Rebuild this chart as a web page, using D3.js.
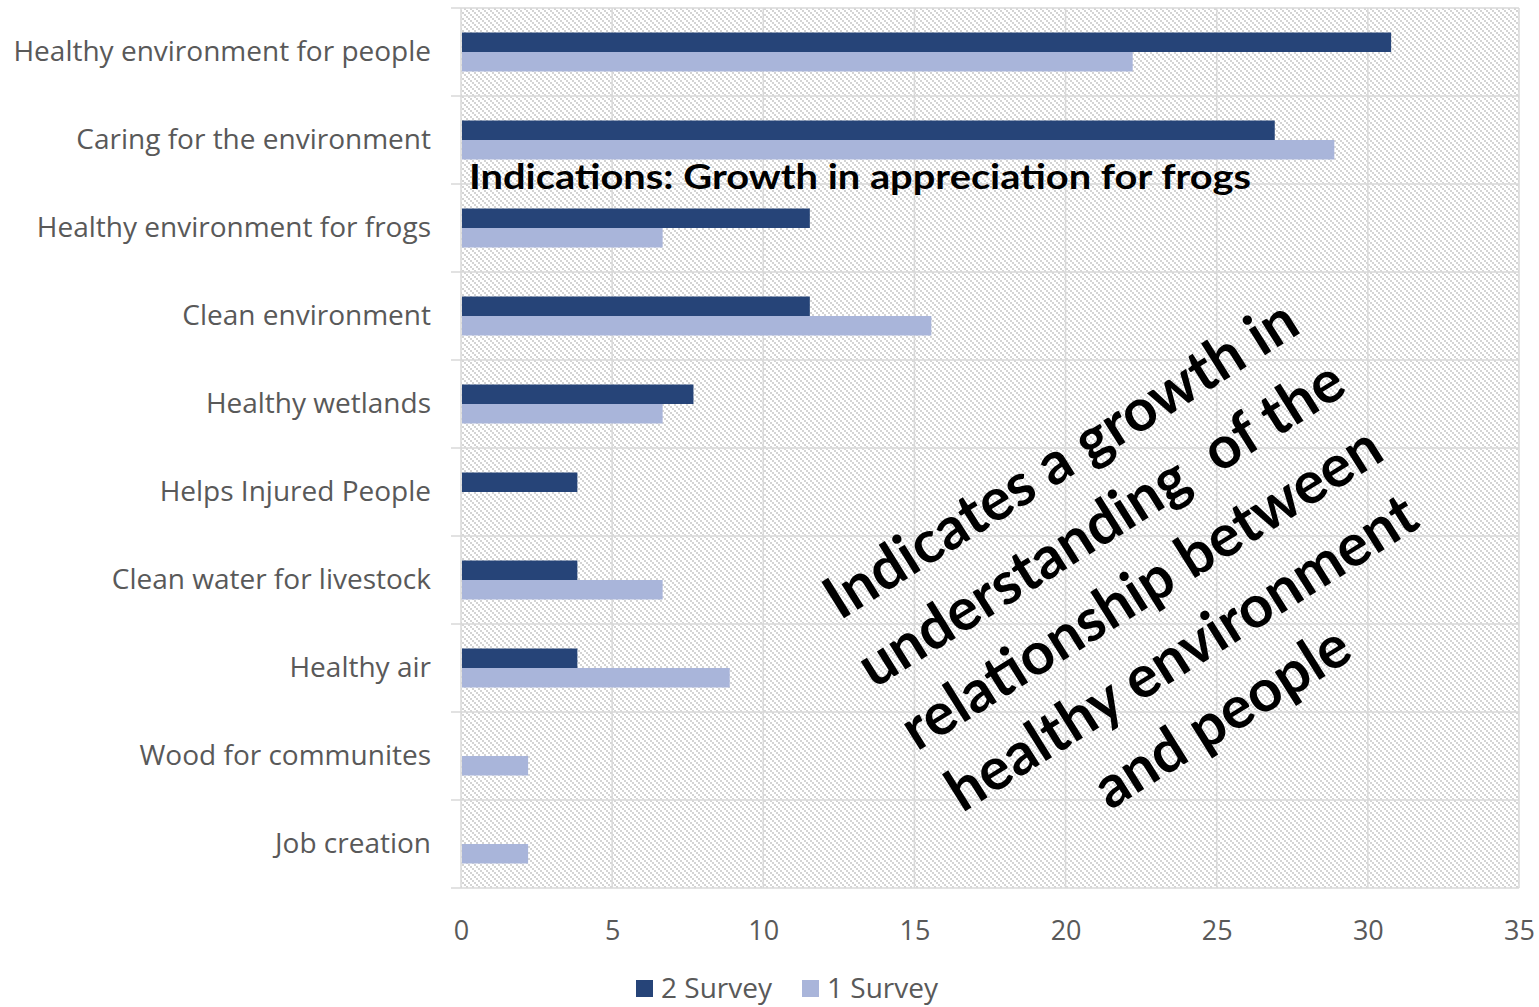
<!DOCTYPE html>
<html>
<head>
<meta charset="utf-8">
<script src="https://cdn.jsdelivr.net/npm/d3@7"></script>
<style>
  html, body { margin: 0; padding: 0; background: #ffffff; }
  svg { display: block; }
</style>
</head>
<body>
<svg id="chart" width="1539" height="1007"></svg>
<script>
// Survey responses (% of respondents) per perceived benefit
const categories = [
  "Healthy environment for people",
  "Caring for the environment",
  "Healthy environment for frogs",
  "Clean environment",
  "Healthy wetlands",
  "Helps Injured People",
  "Clean water for livestock",
  "Healthy air",
  "Wood for communites",
  "Job creation"
];
const seriesNames = ["2 Survey", "1 Survey"];
const survey2 = [30.77, 26.92, 11.54, 11.54, 7.69, 3.85, 3.85, 3.85, 0, 0];
const survey1 = [22.22, 28.89, 6.67, 15.56, 6.67, 0, 6.67, 8.89, 2.22, 2.22];
const xTicks = [0, 5, 10, 15, 20, 25, 30, 35];
const headline = "Indications: Growth in appreciation for frogs";
const noteLines = [
  "Indicates a growth in",
  "understanding  of the",
  "relationship between",
  "healthy environment",
  "and people"
];

const colors = { "2 Survey": "#264478", "1 Survey": "#a9b5da" };
const textGrey = "#595959";
const gridGrey = "#d9d9d9";
const labelFont = "'Open Sans', 'Noto Sans', sans-serif";
const noteFont = "Lato, 'Open Sans', sans-serif";

const svg = d3.select("#chart");
const plot = { left: 461, right: 1519, top: 8, bottom: 888 };

const x = d3.scaleLinear().domain([0, 35]).range([plot.left, plot.right]);
const y = d3.scaleBand().domain(categories).range([plot.top, plot.bottom]).padding(0);
const ySub = d3.scaleBand().domain(seriesNames).range([0, y.bandwidth()])
  .paddingInner(0).paddingOuter(1.256);

// Light diagonal dot-hatch fill for the plot area
const defs = svg.append("defs");
const pat = defs.append("pattern")
  .attr("id", "hatch").attr("patternUnits", "userSpaceOnUse")
  .attr("width", 6).attr("height", 6);
pat.append("rect").attr("width", 6).attr("height", 6).attr("fill", "#ffffff");
[[0, 0], [2, 2], [4, 4]].forEach(([px, py]) => {
  pat.append("rect").attr("x", px).attr("y", py).attr("width", 2).attr("height", 2).attr("fill", "#d4d4d4");
});

svg.append("rect")
  .attr("x", plot.left).attr("y", plot.top)
  .attr("width", plot.right - plot.left).attr("height", plot.bottom - plot.top)
  .attr("fill", "url(#hatch)");

// Vertical gridlines
svg.append("g").selectAll("line").data(xTicks).join("line")
  .attr("x1", d => x(d)).attr("x2", d => x(d))
  .attr("y1", plot.top).attr("y2", plot.bottom)
  .attr("stroke", gridGrey).attr("stroke-width", 1.5);

// Horizontal category separators (extend past the axis as tick marks)
const bounds = categories.map(c => y(c)).concat([plot.bottom]);
svg.append("g").selectAll("line").data(bounds).join("line")
  .attr("x1", plot.left - 10).attr("x2", plot.right)
  .attr("y1", d => d).attr("y2", d => d)
  .attr("stroke", gridGrey).attr("stroke-width", 1.5);

// Bars
const rows = categories.map((c, i) => ({ cat: c, values: [
  { series: "2 Survey", value: survey2[i] },
  { series: "1 Survey", value: survey1[i] }
]}));

const groups = svg.append("g").selectAll("g").data(rows).join("g")
  .attr("transform", d => `translate(0,${y(d.cat)})`);
groups.selectAll("rect").data(d => d.values.filter(v => v.value > 0)).join("rect")
  .attr("x", x(0) + 1)
  .attr("y", d => ySub(d.series))
  .attr("width", d => x(d.value) - x(0) - 1)
  .attr("height", ySub.bandwidth())
  .attr("fill", d => colors[d.series]);

// Category axis
const yAxis = svg.append("g")
  .attr("transform", `translate(${plot.left},0)`)
  .call(d3.axisLeft(y).tickSize(0).tickPadding(30));
yAxis.select(".domain").remove();
yAxis.selectAll("text")
  .attr("fill", textGrey).attr("font-family", labelFont).attr("font-size", 28);

// Value axis labels
const xAxis = svg.append("g")
  .attr("transform", `translate(0,${plot.bottom})`)
  .call(d3.axisBottom(x).tickValues(xTicks).tickSize(0).tickPadding(49));
xAxis.select(".domain").remove();
xAxis.selectAll("text")
  .attr("fill", textGrey).attr("font-family", labelFont).attr("font-size", 27)
  .attr("dy", "0.1em");

// Headline annotation
svg.append("text")
  .attr("x", 469).attr("y", 189)
  .attr("font-family", noteFont).attr("font-weight", 700).attr("font-size", 35)
  .attr("fill", "#000000")
  .attr("textLength", 782).attr("lengthAdjust", "spacingAndGlyphs")
  .text(headline);

// Rotated note
const note = svg.append("g")
  .attr("transform", "translate(1140,586) rotate(-32)");
const lineGap = 76;
note.selectAll("text").data(noteLines).join("text")
  .attr("x", 0)
  .attr("y", (d, i) => (i - (noteLines.length - 1) / 2) * lineGap)
  .attr("text-anchor", "middle")
  .attr("dominant-baseline", "central")
  .attr("font-family", noteFont).attr("font-weight", 700).attr("font-size", 59)
  .attr("fill", "#000000")
  .style("white-space", "pre")
  .text(d => d);

// Legend
const legendItems = [
  { name: "2 Survey", x: 636 },
  { name: "1 Survey", x: 802 }
];
const legend = svg.append("g").selectAll("g").data(legendItems).join("g")
  .attr("transform", d => `translate(${d.x},980)`);
legend.append("rect").attr("width", 17).attr("height", 17)
  .attr("fill", d => colors[d.name]);
legend.append("text")
  .attr("x", 25).attr("y", 18)
  .attr("font-family", labelFont).attr("font-size", 28).attr("fill", textGrey)
  .text(d => d.name);
</script>
</body>
</html>
